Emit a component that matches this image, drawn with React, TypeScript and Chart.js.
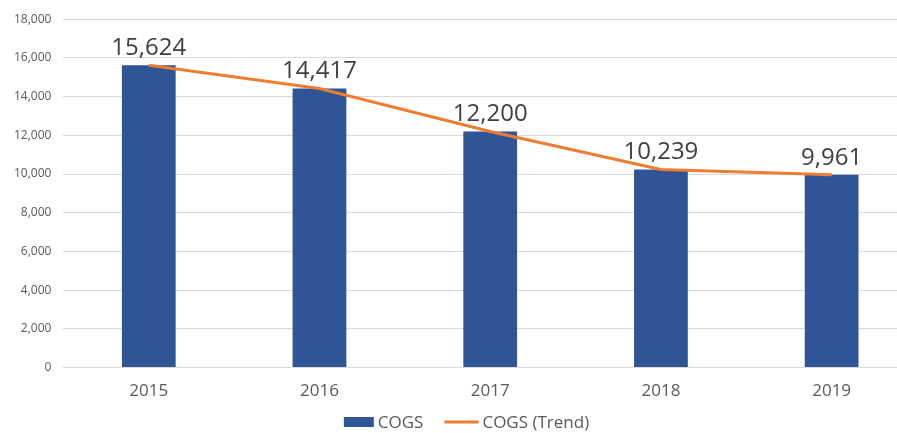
import React, { useEffect, useRef } from "react";
import { Chart, registerables } from "chart.js";

Chart.register(...registerables);

const categories = ["2015", "2016", "2017", "2018", "2019"];
const cogsValues = [15624, 14417, 12200, 10239, 9961];
const trendValues = [15624, 14417, 12200, 10239, 9961];
const seriesNames = ["COGS", "COGS (Trend)"];
const yMax = 18000;
const yStep = 2000;

const BLUE = "#2F5597";
const ORANGE = "#ED7D31";
const FONT = "'Open Sans', 'Noto Sans', sans-serif";

const dataLabelPlugin = {
  id: "dataLabels",
  afterDatasetsDraw(chart: any) {
    const ctx = chart.ctx;
    const meta = chart.getDatasetMeta(0);
    ctx.save();
    ctx.font = `24px ${FONT}`;
    ctx.fillStyle = "#404040";
    ctx.textAlign = "center";
    ctx.textBaseline = "bottom";
    meta.data.forEach((el: any, i: number) => {
      const v = cogsValues[i];
      ctx.fillText(v.toLocaleString("en-US"), el.x, el.y - 5);
    });
    ctx.restore();
  },
};

const legendPlugin = {
  id: "customLegend",
  afterDraw(chart: any) {
    const ctx = chart.ctx;
    ctx.save();
    ctx.font = `17px ${FONT}`;
    ctx.textBaseline = "middle";
    ctx.textAlign = "left";
    const y = 422;
    const w0 = ctx.measureText(seriesNames[0]).width;
    const w1 = ctx.measureText(seriesNames[1]).width;
    const total = 30 + 4 + w0 + 21 + 34 + 4 + w1;
    let x = chart.width / 2 + 8 - total / 2;
    ctx.fillStyle = BLUE;
    ctx.fillRect(x, y - 5, 30, 10);
    x += 34;
    ctx.fillStyle = "#595959";
    ctx.fillText(seriesNames[0], x, y + 1);
    x += w0 + 21;
    ctx.strokeStyle = ORANGE;
    ctx.lineWidth = 3;
    ctx.beginPath();
    ctx.moveTo(x, y);
    ctx.lineTo(x + 34, y);
    ctx.stroke();
    x += 38;
    ctx.fillText(seriesNames[1], x, y + 1);
    ctx.restore();
  },
};

export default function App() {
  const ref = useRef<HTMLCanvasElement>(null);
  useEffect(() => {
    document.body.style.margin = "0";
    document.body.style.overflow = "hidden";
    const chart = new Chart(ref.current!, {
      type: "bar",
      data: {
        labels: categories,
        datasets: [
          {
            type: "bar",
            label: seriesNames[0],
            data: cogsValues,
            backgroundColor: BLUE,
            barPercentage: 1,
            categoryPercentage: 0.315,
            order: 2,
          } as any,
          {
            type: "line",
            label: seriesNames[1],
            data: trendValues,
            borderColor: ORANGE,
            backgroundColor: ORANGE,
            borderWidth: 3,
            pointRadius: 0,
            tension: 0,
            order: 1,
          } as any,
        ],
      },
      plugins: [dataLabelPlugin, legendPlugin],
      options: {
        animation: false,
        responsive: false,
        maintainAspectRatio: false,
        layout: { padding: { left: 2, right: 0, top: 12, bottom: 19 } },
        plugins: {
          tooltip: { enabled: false },
          legend: { display: false },
        },
        scales: {
          x: {
            grid: { display: false, drawTicks: false },
            border: { display: false },
            ticks: {
              color: "#595959",
              font: { family: FONT, size: 17 },
              padding: 13,
            },
          },
          y: {
            min: 0,
            max: yMax,
            grid: { color: "#D9D9D9", drawTicks: false, lineWidth: 1 },
            border: { display: false },
            ticks: {
              stepSize: yStep,
              color: "#595959",
              font: { family: FONT, size: 12 },
              padding: 12,
              callback: (v: any) => Number(v).toLocaleString("en-US"),
            },
          },
        },
      },
    });
    return () => chart.destroy();
  }, []);
  return (
    <div style={{ position: "absolute", left: 0, top: 0, width: 917, height: 433 }}>
      <canvas ref={ref} width={917} height={433} style={{ width: 917, height: 433 }} />
    </div>
  );
}
